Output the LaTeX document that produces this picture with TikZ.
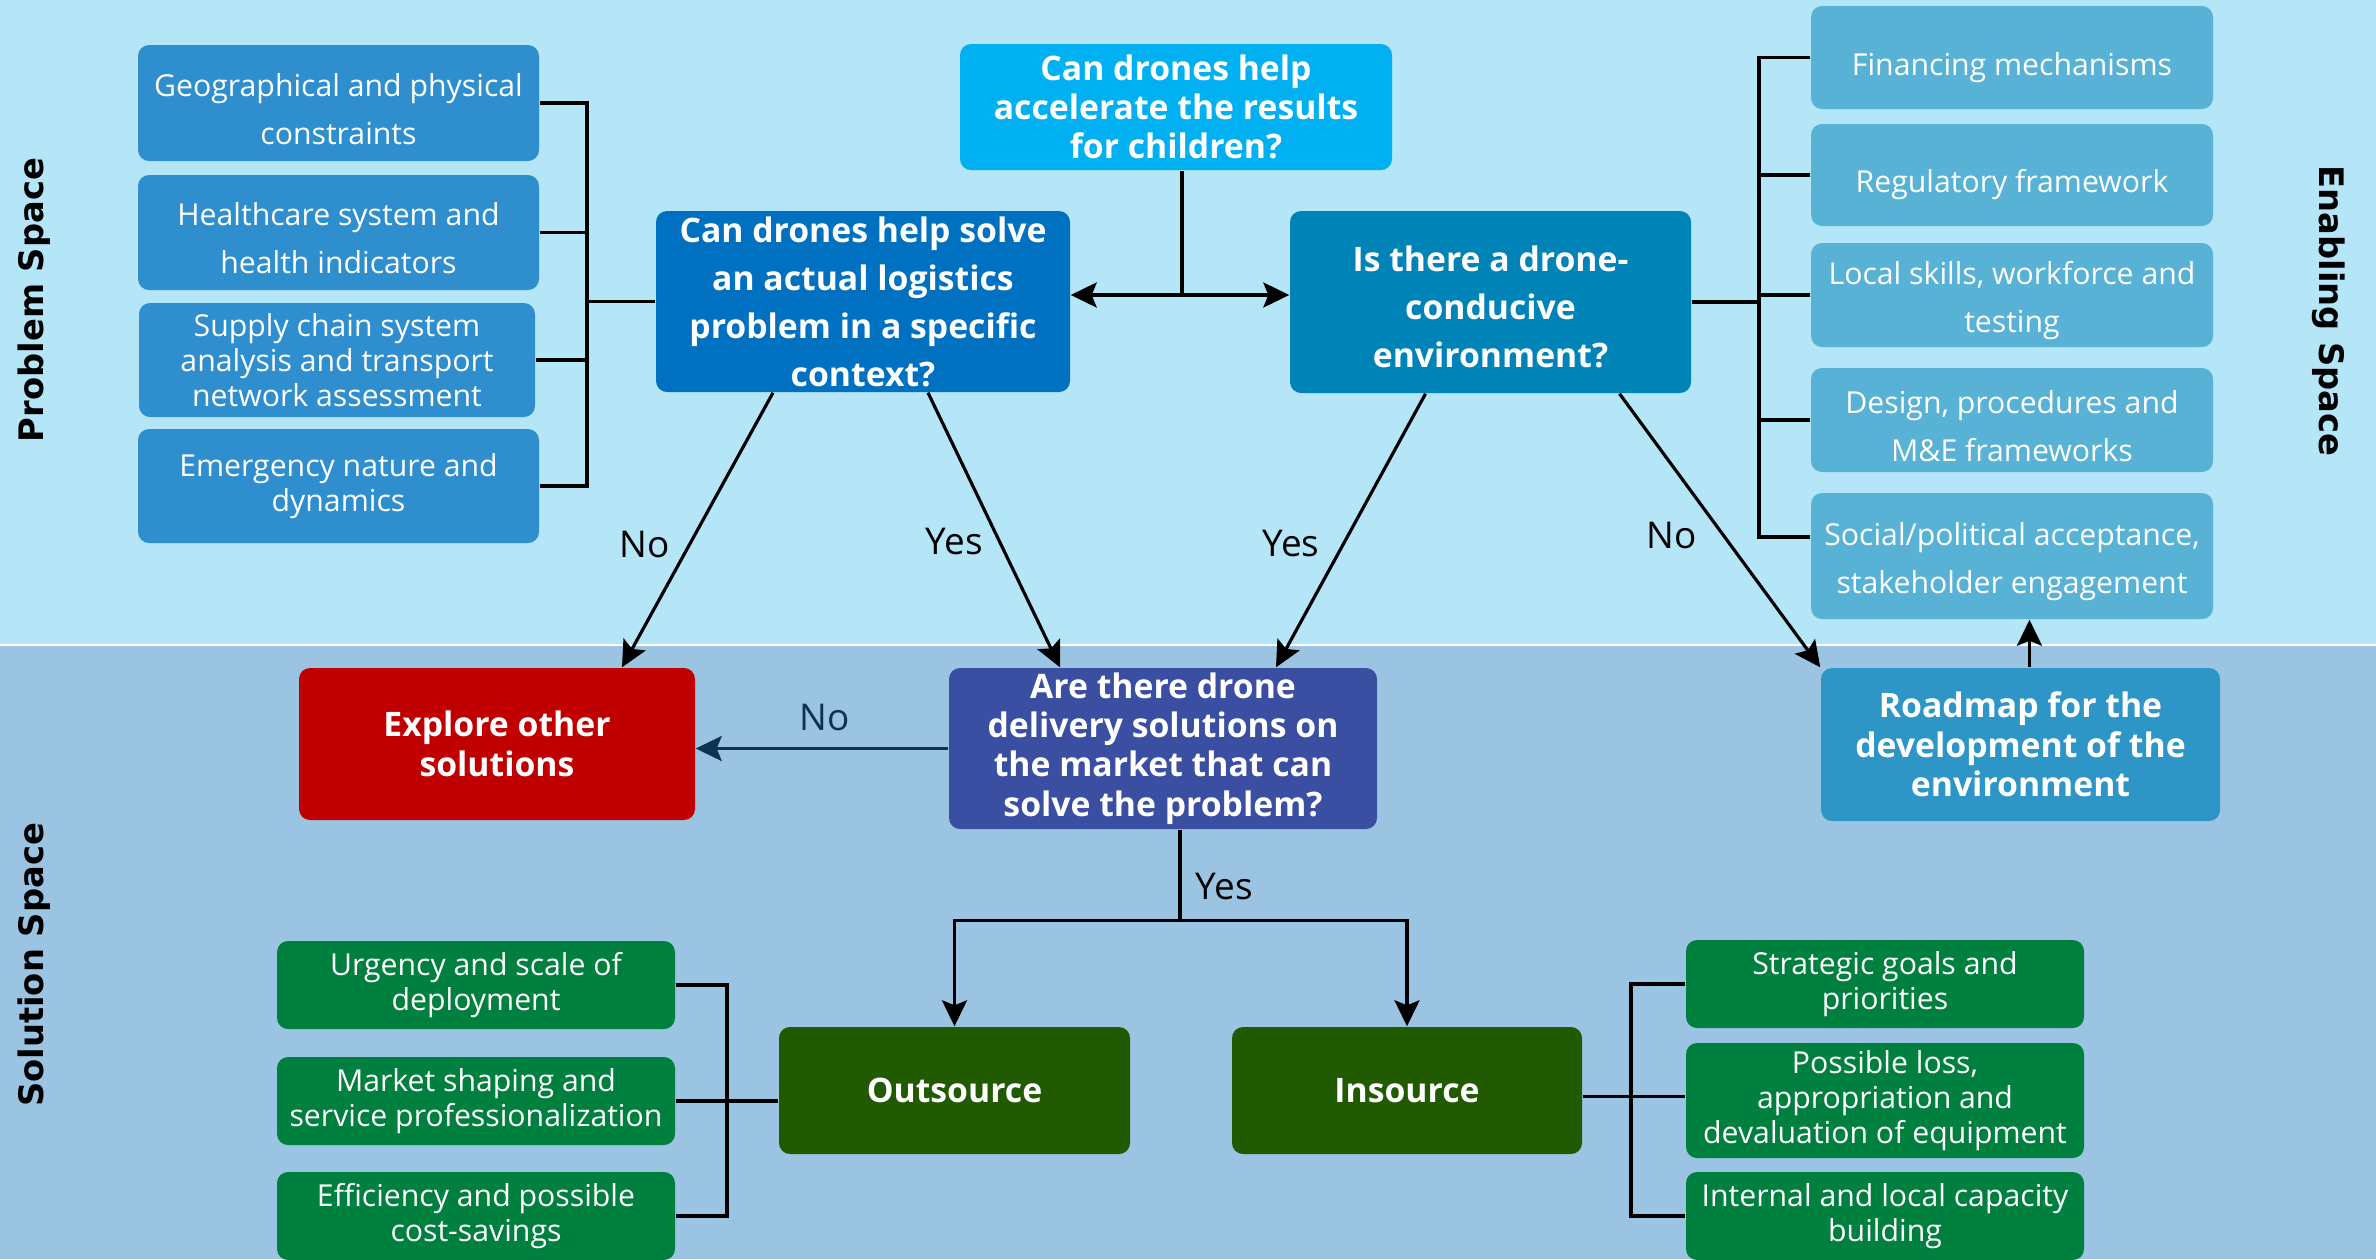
\documentclass[tikz,border=0pt]{standalone}
\usepackage{fontspec}
\setmainfont{Open Sans}
\newfontfamily\spacefont{DejaVu Sans}
\usepackage{tikz}
\usetikzlibrary{arrows.meta}
\usetikzlibrary{positioning}

\definecolor{topsky}{RGB}{180,230,248}
\definecolor{lowsky}{RGB}{155,196,227}
\definecolor{probblue}{RGB}{46,142,206}
\definecolor{enabblue}{RGB}{87,178,214}
\definecolor{kidscyan}{RGB}{0,176,240}
\definecolor{logblue}{RGB}{0,112,192}
\definecolor{condblue}{RGB}{0,131,182}
\definecolor{marketblue}{RGB}{58,78,162}
\definecolor{exploreRed}{RGB}{192,0,0}
\definecolor{roadblue}{RGB}{46,150,198}
\definecolor{sourcegreen}{RGB}{33,90,0}
\definecolor{factgreen}{RGB}{0,128,62}
\definecolor{navyline}{RGB}{15,50,80}

\newcommand\lift{\rule[-2.5pt]{0pt}{12.4pt}}
\newcommand\liftone{\rule{0pt}{12.2pt}}

\begin{document}
\begin{tikzpicture}[x=0.1mm, y=-0.1mm,
    box/.style={rectangle, rounded corners=1.1mm, align=center, text=white, inner sep=0pt},
    dims/.style 2 args={minimum width=#1, minimum height=#2},
    loose/.style={box, font=\fontsize{8.6}{13.66}\selectfont},
    tight/.style={box, font=\fontsize{8.6}{9.96}\selectfont},
    askloose/.style={box, font=\bfseries\fontsize{9.6}{13.66}\selectfont},
    asktight/.style={box, font=\bfseries\fontsize{9.6}{11.2}\selectfont},
    side/.style={font=\spacefont\bfseries\fontsize{9.6}{11}\selectfont},
    yesno/.style={inner sep=0pt, font=\fontsize{10.5}{12}\selectfont},
    link/.style={->, line width=0.9pt},
    bar/.style={line width=1.1pt},
  ]
\tikzset{>={Stealth[length=2.6mm, width=2.5mm, inset=0.5mm]}}

  \useasboundingbox (0,0) rectangle (2376,1259);
  \fill[topsky] (0,0) rectangle (2376,645);
  \fill[lowsky] (0,645) rectangle (2376,1259);
  \draw[white, line width=0.6pt] (0,645) -- (2376,645);

  \node[side, rotate=90]  (probspace) at (34,300)   {Problem Space};
  \node[side, rotate=90]  (solspace)  at (34,965)   {Solution Space};
  \node[side, rotate=-90] (enabspace) at (2329,311) {Enabling Space};

  % questions
  \node[asktight, fill=kidscyan, dims={43.2mm}{12.6mm}] (kids) at (1176,107)
    {Can drones help\\accelerate the results\\for children?};
  \node[askloose, fill=logblue, dims={41.4mm}{18.1mm}] (logistics) at (863,301.5)
    {Can drones help solve\\an actual logistics\\problem in a specific\\context?};
  \node[askloose, fill=condblue, dims={40.1mm}{18.2mm}] (conducive) at (1490.5,302)
    {\lift Is there a drone-\\conducive\\environment?};
  \node[asktight, fill=marketblue, dims={42.8mm}{16.1mm}] (market) at (1163,748.5)
    {Are there drone\\delivery solutions on\\the market that can\\solve the problem?};
  \node[asktight, fill=exploreRed, dims={39.6mm}{15.2mm}] (explore) at (497,744)
    {Explore other\\solutions};
  \node[asktight, fill=roadblue, dims={39.9mm}{15.3mm}] (roadmap) at (2020.5,744.5)
    {Roadmap for the\\development of the\\environment};
  \node[asktight, fill=sourcegreen, dims={35.1mm}{12.7mm}] (outsource) at (954.5,1090.5) {Outsource};
  \node[asktight, fill=sourcegreen, dims={35mm}{12.7mm}] (insource) at (1407,1090.5) {Insource};

  % problem space
  \node[loose, fill=probblue, dims={40.1mm}{11.6mm}] (geo) at (338.5,103)
    {\lift Geographical and physical\\constraints};
  \node[loose, fill=probblue, dims={40.1mm}{11.5mm}] (health) at (338.5,232.5)
    {\lift Healthcare system and\\health indicators};
  \node[tight, fill=probblue, dims={39.6mm}{11.4mm}] (supply) at (337,360)
    {Supply chain system\\analysis and transport\\network assessment};
  \node[tight, fill=probblue, dims={40.1mm}{11.4mm}] (emergency) at (338.5,486)
    {Emergency nature and\\dynamics};

  % enabling space
  \node[loose, fill=enabblue, dims={40.2mm}{10.3mm}] (finance) at (2012,57.5) {\liftone Financing mechanisms};
  \node[loose, fill=enabblue, dims={40.2mm}{10.2mm}] (regulatory) at (2012,175) {\liftone Regulatory framework};
  \node[loose, fill=enabblue, dims={40.2mm}{10.4mm}] (skills) at (2012,295)
    {\lift Local skills, workforce and\\testing};
  \node[loose, fill=enabblue, dims={40.2mm}{10.4mm}] (design) at (2012,420)
    {\lift Design, procedures and\\M\&E frameworks};
  \node[loose, fill=enabblue, dims={40.2mm}{12.6mm}] (social) at (2012,556)
    {\lift Social/political acceptance,\\stakeholder engagement};

  % solution space
  \node[tight, fill=factgreen, dims={39.8mm}{8.8mm}] (urgency) at (476,985)
    {Urgency and scale of\\deployment};
  \node[tight, fill=factgreen, dims={39.8mm}{8.8mm}] (shaping) at (476,1101)
    {Market shaping and\\service professionalization};
  \node[tight, fill=factgreen, dims={39.8mm}{8.8mm}] (efficiency) at (476,1216)
    {Efficiency and possible\\cost-savings};
  \node[tight, fill=factgreen, dims={39.8mm}{8.8mm}] (strategic) at (1885,984)
    {Strategic goals and\\priorities};
  \node[tight, fill=factgreen, dims={39.8mm}{11.5mm}] (loss) at (1885,1100.5)
    {Possible loss,\\appropriation and\\devaluation of equipment};
  \node[tight, fill=factgreen, dims={39.8mm}{8.8mm}] (capacity) at (1885,1216)
    {Internal and local capacity\\building};

  \coordinate (pbar) at (587,0);
  \coordinate (ebar) at (1759,0);
  \coordinate (gbar) at (727,0);
  \coordinate (hbar) at (1631,0);

  \draw[bar] (geo.east) -- (geo.east -| pbar) -- (emergency.east -| pbar) -- (emergency.east);
  \foreach \n in {health,supply}
    \draw[bar] (\n.east) -- (\n.east -| pbar);
  \draw[bar] (logistics.west) -- (logistics.west -| pbar);

  \draw[bar] (finance.west) -- (finance.west -| ebar) -- ([yshift=1.9mm]social.west -| ebar)
    -- ([yshift=1.9mm]social.west);
  \foreach \n in {regulatory,skills,design}
    \draw[bar] (\n.west) -- (\n.west -| ebar);
  \draw[bar] (conducive.east) -- (conducive.east -| ebar);

  \draw[bar] ([xshift=0.6mm]kids.south) -- ([xshift=0.6mm,yshift=0.65mm]kids.south |- logistics.east) coordinate (fork);
  \draw[link] (fork) -- (fork -| logistics.east);
  \draw[link] (fork) -- (fork -| conducive.west);

  \draw[link] ([xshift=-9mm]logistics.south) -- node[yesno, pos=0.554, left=1.8mm] (no1) {No}
    ([xshift=12.5mm]explore.north);
  \draw[link] ([xshift=6.5mm]logistics.south) -- node[yesno, pos=0.543, left=1.5mm] (yes1) {Yes}
    ([xshift=-10.3mm]market.north);
  \draw[link] ([xshift=-6.5mm]conducive.south) -- node[yesno, pos=0.546, left=2.3mm] (yes2) {Yes}
    ([xshift=11.3mm]market.north);
  \draw[link] ([xshift=12.9mm]conducive.south) -- node[yesno, pos=0.52, left=2.6mm] (no2) {No}
    (roadmap.north west);
  \draw[link] ([xshift=0.9mm]roadmap.north) -- ([xshift=0.9mm]roadmap.north |- social.south);

  \draw[link, navyline] (market.west) -- node[yesno, pos=0.49, above=1.6mm, text=navyline] (no3) {No}
    (market.west -| explore.east);

  \draw[bar] ([xshift=1.7mm]market.south) -- node[yesno, pos=0.62, right=1.4mm] (yes3) {Yes}
    ++(0,91) coordinate (split);
  \draw[link] (split) -| (outsource.north);
  \draw[link] (split) -| (insource.north);

  \draw[bar] (urgency.east) -- (urgency.east -| gbar) -- (efficiency.east -| gbar) -- (efficiency.east);
  \draw[bar] (shaping.east) -- (shaping.east -| outsource.west);

  \draw[bar] (strategic.west) -- (strategic.west -| hbar) -- (capacity.west -| hbar) -- (capacity.west);
  \draw[bar] ([yshift=-0.6mm]insource.east) -- ([yshift=-0.6mm]insource.east -| loss.west);

\end{tikzpicture}
\end{document}
